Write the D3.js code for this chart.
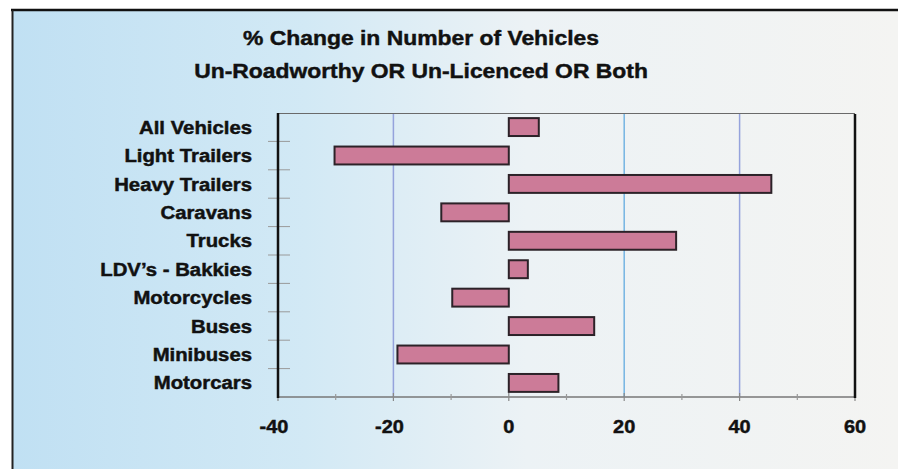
<!DOCTYPE html>
<html lang="en">
<head>
<meta charset="UTF-8">
<title>% Change in Number of Vehicles</title>
<script src="https://d3js.org/d3.v7.min.js"></script>
<style>
  body { margin: 0; background: #fff; overflow: hidden; }
  svg { display: block; }
  text { font-family: 'Liberation Sans', Arial, sans-serif; font-weight: bold; fill: #111; stroke: #111; stroke-width: 0.45; }
</style>
</head>
<body>
<svg width="898" height="469"></svg>
<script>
var categories = ["All Vehicles", "Light Trailers", "Heavy Trailers", "Caravans", "Trucks",
                  "LDV\u2019s - Bakkies", "Motorcycles", "Buses", "Minibuses", "Motorcars"];
var values = [5.2, -30.2, 45.5, -11.7, 29, 3.3, -9.8, 14.8, -19.3, 8.6];
var titleLines = ["% Change in Number of Vehicles", "Un-Roadworthy OR Un-Licenced OR Both"];
var xTicks = [-40, -20, 0, 20, 40, 60];
var xMinor = [-30, -10, 10, 30, 50];
var gridValues = [-20, 20, 40];

var width = 898, height = 469;
var svg = d3.select("svg");

// background gradient, blue on the left fading to off-white
var defs = svg.append("defs");
var grad = defs.append("linearGradient").attr("id", "bg").attr("x1", "0").attr("x2", "1").attr("y1", "0").attr("y2", "0");
grad.append("stop").attr("offset", "0%").attr("stop-color", "#c0e0f3");
grad.append("stop").attr("offset", "33%").attr("stop-color", "#d2e9f5");
grad.append("stop").attr("offset", "58%").attr("stop-color", "#ecf2f5");
grad.append("stop").attr("offset", "100%").attr("stop-color", "#f4f4f2");

svg.append("rect").attr("x", 12).attr("y", 10).attr("width", width - 12).attr("height", height - 10)
    .attr("fill", "url(#bg)");

// frame
svg.append("line").attr("x1", 11).attr("x2", width).attr("y1", 10).attr("y2", 10)
    .attr("stroke", "#111").attr("stroke-width", 2.5);
svg.append("line").attr("x1", 12.5).attr("x2", 12.5).attr("y1", 10).attr("y2", height)
    .attr("stroke", "#222").attr("stroke-width", 2);

var x = d3.scaleLinear().domain([-40, 60]).range([278, 855]);
var y = d3.scaleBand().domain(categories).range([113, 397]).paddingInner(0.37).paddingOuter(0.18);
var band = d3.scaleBand().domain(categories).range([113, 397]);

// stretched text helper, the scan renders the type wider than Arial
function wide(sel, sx) {
    return sel.attr("transform", function() {
        var t = d3.select(this);
        return "translate(" + t.attr("data-x") + "," + t.attr("data-y") + ") scale(" + sx + ",1)";
    });
}

// title
svg.selectAll(".title").data(titleLines).enter().append("text")
    .attr("class", "title")
    .attr("data-x", 421).attr("data-y", function(d, i) { return 45 + i * 33; })
    .attr("text-anchor", "middle").style("font-size", "21px")
    .text(function(d) { return d; })
    .call(wide, 1.09);

// gridlines
svg.selectAll(".grid").data(gridValues).enter().append("line")
    .attr("x1", function(d) { return x(d); }).attr("x2", function(d) { return x(d); })
    .attr("y1", 113).attr("y2", 397)
    .attr("stroke", function(d) { return d === 20 ? "#74b4e2" : "#95a3dc"; })
    .attr("stroke-width", 1.5);

// plot top border
svg.append("line").attr("x1", x(-40)).attr("x2", x(60)).attr("y1", 113.5).attr("y2", 113.5)
    .attr("stroke", "#6a6a6a").attr("stroke-width", 1.2);

// bars
svg.selectAll(".bar").data(values).enter().append("rect")
    .attr("x", function(d) { return x(Math.min(0, d)); })
    .attr("y", function(d, i) { return y(categories[i]); })
    .attr("width", function(d) { return Math.abs(x(d) - x(0)); })
    .attr("height", y.bandwidth())
    .attr("fill", "#cc7b98").attr("stroke", "#2c2228").attr("stroke-width", 2);

// bottom axis
var xAxis = svg.append("g").attr("transform", "translate(0,397)");
xAxis.append("line").attr("x1", x(-40)).attr("x2", x(60)).attr("y1", 0).attr("y2", 0)
    .attr("stroke", "#777").attr("stroke-width", 1.5);
xAxis.selectAll(".maj").data(xTicks).enter().append("line")
    .attr("x1", function(d) { return x(d); }).attr("x2", function(d) { return x(d); })
    .attr("y1", -4).attr("y2", 4).attr("stroke", "#888").attr("stroke-width", 1.2);
xAxis.selectAll(".min").data(xMinor).enter().append("line")
    .attr("x1", function(d) { return x(d); }).attr("x2", function(d) { return x(d); })
    .attr("y1", -3).attr("y2", 3).attr("stroke", "#999").attr("stroke-width", 1.2);
xAxis.selectAll(".lbl").data(xTicks).enter().append("text")
    .attr("data-x", function(d) { return x(d) - (d < 0 ? 4 : 0); }).attr("data-y", 36)
    .attr("text-anchor", "middle").style("font-size", "19px")
    .text(function(d) { return d; })
    .call(wide, 1.05);

// left axis with tick marks on band boundaries
var bounds = categories.slice(1).map(function(c) { return band(c); });
svg.selectAll(".ytick").data(bounds).enter().append("line")
    .attr("x1", 268).attr("x2", 290)
    .attr("y1", function(d) { return d; }).attr("y2", function(d) { return d; })
    .attr("stroke", "#9a9a9a").attr("stroke-width", 1);
svg.append("line").attr("x1", x(-40)).attr("x2", x(-40)).attr("y1", 113).attr("y2", 398)
    .attr("stroke", "#111").attr("stroke-width", 2.5);

// right border
svg.append("line").attr("x1", x(60)).attr("x2", x(60)).attr("y1", 114).attr("y2", 398)
    .attr("stroke", "#111").attr("stroke-width", 2.5);

// category labels
svg.selectAll(".cat").data(categories).enter().append("text")
    .attr("data-x", 252)
    .attr("data-y", function(d) { return band(d) + band.bandwidth() / 2 + 6.5; })
    .attr("text-anchor", "end").style("font-size", "18px")
    .text(function(d) { return d; })
    .call(wide, 1.13);
</script>
</body>
</html>
